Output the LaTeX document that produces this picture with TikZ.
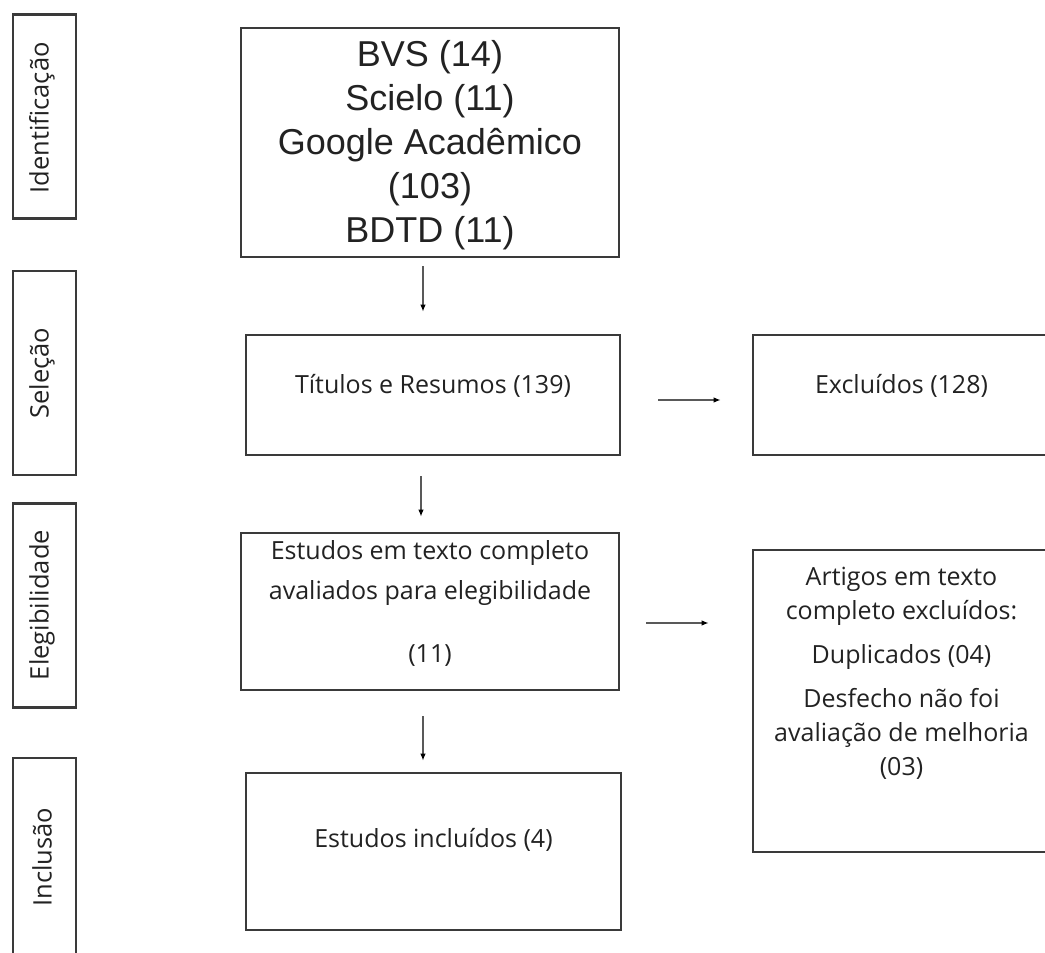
\documentclass[tikz,border=0pt]{standalone}
\usepackage{fontspec}
\setmainfont{Open Sans}
\newfontfamily\arialf{Liberation Sans}
\usetikzlibrary{calc,arrows.meta}
\definecolor{bordc}{HTML}{3A3A3A}
\definecolor{txtc}{HTML}{222222}
\tikzset{
  boxs/.style={draw=bordc, line width=2.6pt, rectangle, inner sep=0pt},
  sidebox/.style={boxs, minimum width=63pt, minimum height=204pt},
  sidetext/.style={rotate=90, font=\fontsize{25.5}{30}\selectfont, text=txtc},
  txt/.style={inner sep=0pt, align=center, text=txtc, font=\fontsize{25}{34}\selectfont},
  arr/.style={draw=gray!70!black, line width=1.4pt, -{Latex[length=7pt,width=5.5pt,black]}},
}
\begin{document}
\begin{tikzpicture}[x=1pt,y=-1pt]
\useasboundingbox (0,0) rectangle (1045,953);
\clip (0,0) rectangle (1045,953);
% side labels
\node[sidebox] (l1) at (44.5,116.5) {};
\node[sidetext] (t1) at (42,118) {Identificação};
\node[sidebox] (l2) at (44.5,373) {};
\node[sidetext] (t2) at (42,373) {Seleção};
\node[sidebox] (l3) at (44.5,605.5) {};
\node[sidetext] (t3) at (42,605) {Elegibilidade};
\node[sidebox] (l4) at (44.5,860) {};
\node[sidetext] (t4) at (42,857) {Inclusão};
% main boxes
\node[boxs, minimum width=378pt, minimum height=229pt] (src) at (430,142.5) {};
\node[txt, font=\arialf\fontsize{36}{44}\selectfont] (srcT) at ($(src.center)+(0,3)$)
  {BVS (14)\\Scielo (11)\\Google Acadêmico\\(103)\\BDTD (11)};
\node[boxs, minimum width=374pt, minimum height=120pt] (tit) at (433,395) {};
\node[txt] (titT) at ($(tit.center)+(0,-9)$) {Títulos e Resumos (139)};
\node[boxs, minimum width=297pt, minimum height=120pt] (exc) at (901.5,395) {};
\node[txt] (excT) at ($(exc.center)+(0,-9)$) {Excluídos (128)};
\node[boxs, minimum width=378pt, minimum height=157pt] (est) at (430,611.5) {};
\node[txt] (estT) at ($(est.center)+(0,-8)$)
  {Estudos em texto completo\\[6pt]avaliados para elegibilidade\\[29pt](11)};
\node[boxs, minimum width=297pt, minimum height=302pt] (art) at (901.5,701) {};
\node[txt] (artT) at ($(art.center)+(0,-28)$)
  {Artigos em texto\\completo excluídos:\\[10pt]Duplicados (04)\\[10pt]Desfecho não foi\\avaliação de melhoria\\(03)};
\node[boxs, minimum width=375pt, minimum height=157pt] (inc) at (433.5,851.5) {};
\node[txt] (incT) at ($(inc.center)+(0,-12)$) {Estudos incluídos (4)};
% arrows
\draw[arr] ($(src.south)+(-7,8)$) -- ($(tit.north)+(-10,-22)$);
\draw[arr] ($(tit.south)+(-12,20)$) -- ($(est.north)+(-9,-15)$);
\draw[arr] ($(est.south)+(-7,25)$) -- ($(inc.north)+(-10.5,-11)$);
\draw[arr] ($(tit.east)+(37,5)$) -- ($(exc.west)+(-31,5)$);
\draw[arr] ($(est.east)+(26,11.5)$) -- ($(art.west)+(-43,-78)$);
\end{tikzpicture}
\end{document}
